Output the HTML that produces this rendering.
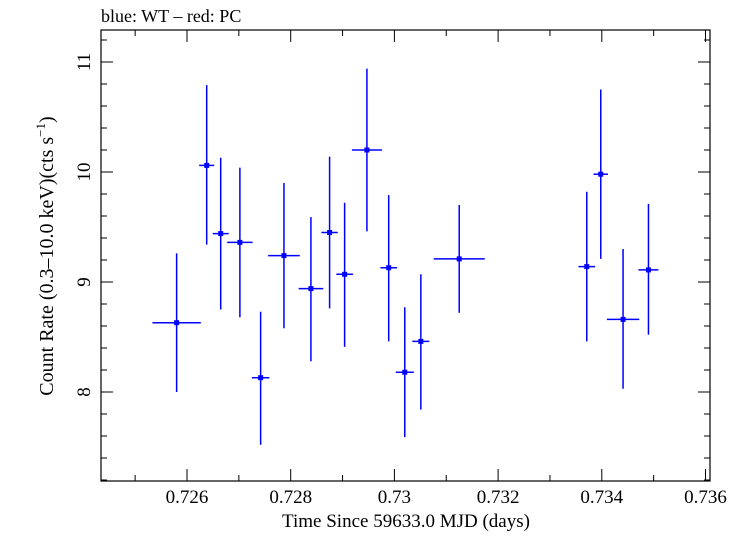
<!DOCTYPE html>
<html><head><meta charset="utf-8"><style>
body{margin:0;background:#fff}
svg text{font-family:"Liberation Serif",serif;fill:#000}
</style></head><body>
<svg id="chart" width="739" height="532" xmlns="http://www.w3.org/2000/svg">
<text x="101" y="22" font-size="18">blue: WT – red: PC</text>
<rect x="101" y="30" width="609" height="451" fill="none" stroke="#000" stroke-width="1.2"/>
<g id="axes"></g>
<g id="series"></g>
<text x="406" y="527" font-size="19" text-anchor="middle">Time Since 59633.0 MJD (days)</text>
<text transform="translate(53,256) rotate(-90)" font-size="20" text-anchor="middle">Count Rate (0.3–10.0 keV)(cts s<tspan dy="-8" font-size="13">−1</tspan><tspan dy="8">)</tspan></text>
</svg>
<script>
const times=[0.72580,0.72638,0.72665,0.72702,0.72742,0.72787,0.72839,0.72875,0.72904,0.72947,0.72989,0.73020,0.73051,0.73125,0.73371,0.73398,0.73441,0.73490];
const rates=[8.63,10.06,9.44,9.36,8.13,9.24,8.94,9.45,9.07,10.20,9.13,8.18,8.46,9.21,9.14,9.98,8.66,9.11];
const xerr=[0.000467,0.000145,0.000154,0.000245,0.000168,0.000305,0.000237,0.000158,0.000160,0.000289,0.000160,0.000174,0.000164,0.000492,0.000160,0.000139,0.000312,0.000193];
const yerrHi=[0.63,0.73,0.69,0.68,0.60,0.66,0.65,0.69,0.65,0.74,0.66,0.59,0.61,0.49,0.68,0.77,0.64,0.60];
const yerrLo=[0.63,0.72,0.69,0.68,0.61,0.66,0.66,0.69,0.66,0.74,0.67,0.59,0.62,0.49,0.68,0.77,0.63,0.59];
const xTicks=[0.726,0.728,0.730,0.732,0.734,0.736];
const xTickLabels=["0.726","0.728","0.73","0.732","0.734","0.736"];
const yTicks=[8,9,10,11];
const yTickLabels=["8","9","10","11"];

const L=101,R=710,T=30,B=481;
const xs=v=>187+(v-0.726)*51850;
const ys=v=>62+(11-v)*110;
const NS="http://www.w3.org/2000/svg";
function mk(tag,attrs,parent){const e=document.createElementNS(NS,tag);for(const k in attrs)e.setAttribute(k,attrs[k]);parent.appendChild(e);return e;}
const ax=document.getElementById('axes');
for(let v=0.725;v<=0.7365;v+=0.001){
  const x=xs(v); if(x<L||x>R)continue;
  const major=Math.abs(Math.round(v*1000)%2)===0;
  const len=major?12:6;
  const t1=mk('line',{x1:x,x2:x,y1:B,y2:B-len,stroke:'#000'},ax);
  
  
  const t2=mk('line',{x1:x,x2:x,y1:T,y2:T+len,stroke:'#000'},ax);
  
  
}
xTicks.forEach((v,i)=>{
  const t=mk('text',{x:xs(v),y:503,'font-size':19,'text-anchor':'middle'},ax);
  t.textContent=xTickLabels[i];
  
  
});
for(let k=36;k<=56;k++){
  const v=k/5; const y=ys(v); if(y<T||y>B)continue;
  const major=k%5===0; const len=major?12:6;
  const t1=mk('line',{x1:L,x2:L+len,y1:y,y2:y,stroke:'#000'},ax);
  
  
  const t2=mk('line',{x1:R,x2:R-len,y1:y,y2:y,stroke:'#000'},ax);
  
  
}
yTicks.forEach((v,i)=>{
  const t=mk('text',{transform:`translate(90,${ys(v)}) rotate(-90)`,'font-size':19,'text-anchor':'middle'},ax);
  t.textContent=yTickLabels[i];
  
  
});
const sg=document.getElementById('series');
times.forEach((t,i)=>{
  const g=mk('g',{},sg);
  
  
  const cx=xs(t),cy=ys(rates[i]);
  mk('line',{x1:xs(t-xerr[i]),x2:xs(t+xerr[i]),y1:cy,y2:cy,stroke:'#0000ff','stroke-width':1.5},g);
  mk('line',{x1:cx,x2:cx,y1:ys(rates[i]+yerrHi[i]),y2:ys(rates[i]-yerrLo[i]),stroke:'#0000ff','stroke-width':1.5},g);
  mk('rect',{x:cx-2.5,y:cy-2.5,width:5,height:5,fill:'#0000ff'},g);
});
</script>
</body></html>
